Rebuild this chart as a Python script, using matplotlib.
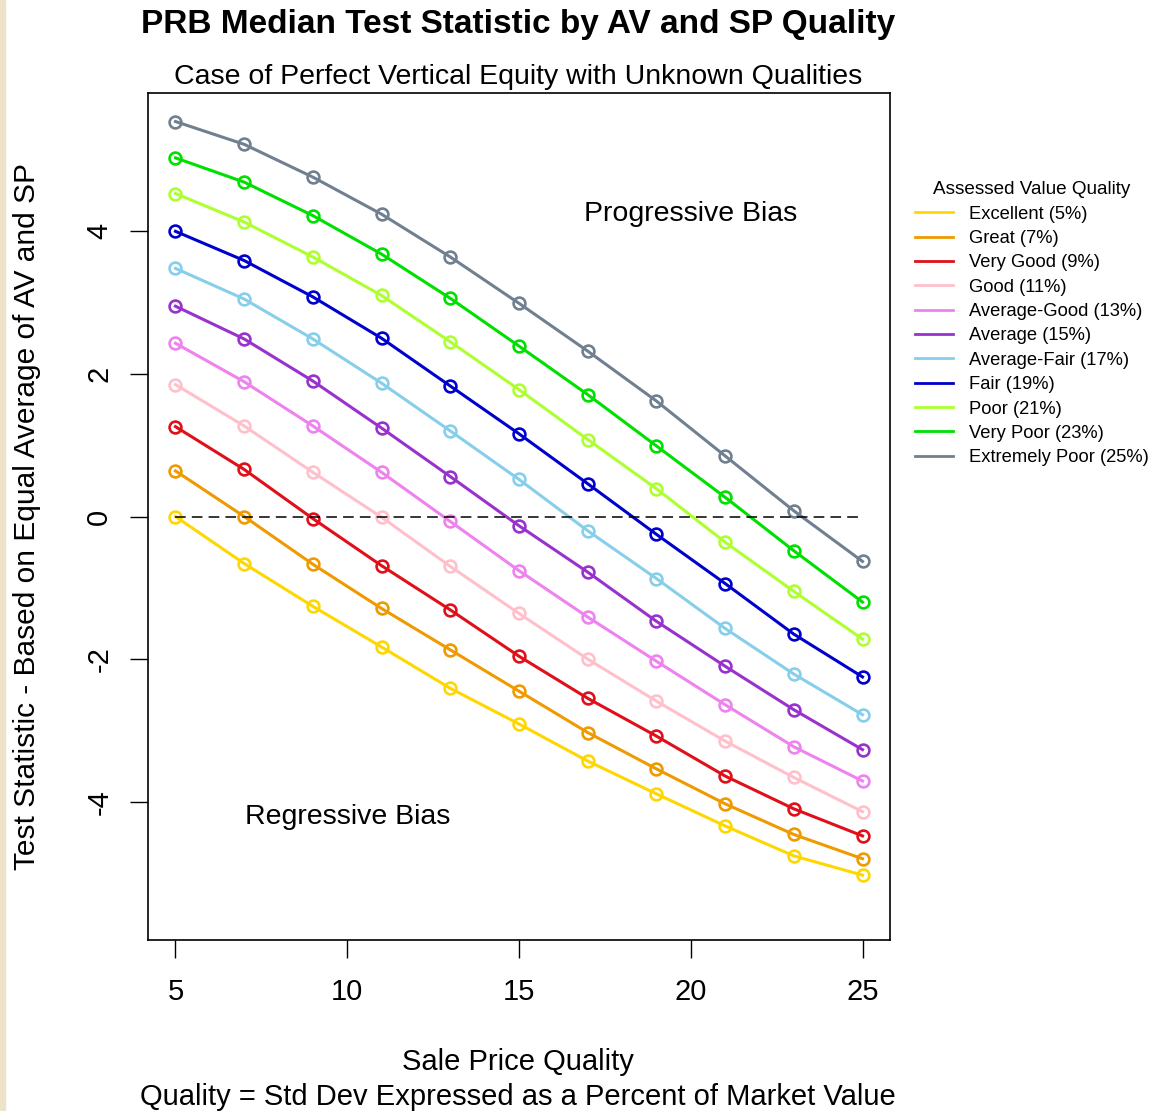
import numpy as np
import matplotlib.pyplot as plt
from matplotlib.patches import Rectangle

plt.rcParams['font.family'] = ['Liberation Sans', 'DejaVu Sans']
plt.rcParams['axes.unicode_minus'] = False

sp_quality = [5, 7, 9, 11, 13, 15, 17, 19, 21, 23, 25]

labels = ['Excellent (5%)', 'Great (7%)', 'Very Good (9%)', 'Good (11%)',
          'Average-Good (13%)', 'Average (15%)', 'Average-Fair (17%)',
          'Fair (19%)', 'Poor (21%)', 'Very Poor (23%)', 'Extremely Poor (25%)']
colors = ['#FFD700', '#EE9A00', '#E0101A', '#FFC0CB', '#EE82EE', '#9932CC',
          '#87CEEB', '#0000CD', '#ADFF2F', '#00E000', '#708090']

excellent = [0.0, -0.66, -1.26, -1.83, -2.41, -2.91, -3.43, -3.89, -4.34, -4.76, -5.03]
great = [0.64, 0.0, -0.67, -1.29, -1.87, -2.45, -3.03, -3.54, -4.03, -4.46, -4.80]
very_good = [1.26, 0.66, -0.03, -0.69, -1.31, -1.96, -2.55, -3.08, -3.64, -4.10, -4.48]
good = [1.85, 1.27, 0.62, -0.01, -0.70, -1.36, -2.00, -2.59, -3.15, -3.66, -4.14]
avg_good = [2.43, 1.89, 1.27, 0.62, -0.07, -0.76, -1.41, -2.03, -2.64, -3.23, -3.71]
average = [2.95, 2.49, 1.90, 1.24, 0.56, -0.13, -0.78, -1.47, -2.10, -2.71, -3.27]
avg_fair = [3.48, 3.05, 2.49, 1.87, 1.20, 0.52, -0.20, -0.87, -1.57, -2.21, -2.78]
fair = [4.00, 3.59, 3.08, 2.50, 1.83, 1.16, 0.46, -0.25, -0.94, -1.65, -2.25]
poor = [4.53, 4.13, 3.64, 3.10, 2.45, 1.78, 1.08, 0.39, -0.36, -1.05, -1.72]
very_poor = [5.03, 4.69, 4.22, 3.68, 3.06, 2.39, 1.71, 0.99, 0.27, -0.48, -1.20]
extremely_poor = [5.54, 5.22, 4.76, 4.24, 3.64, 2.99, 2.32, 1.62, 0.85, 0.08, -0.63]

series = [excellent, great, very_good, good, avg_good, average,
          avg_fair, fair, poor, very_poor, extremely_poor]

fig = plt.figure(figsize=(11.55, 11.11), dpi=100)
fig.patches.append(Rectangle((0, 0), 5 / 1155, 1, transform=fig.transFigure,
                             color='#EDE3C8', zorder=0))
ax = fig.add_axes([148 / 1155, 1 - 940 / 1111, 742 / 1155, 847 / 1111])

for vals, col, lab in zip(series, colors, labels):
    ax.plot(sp_quality, vals, color=col, lw=2.2, marker='o', ms=8.5,
            mfc='none', mec=col, mew=1.9, label=lab)

ax.plot([5, 25], [0, 0], color='black', lw=1.1, ls=(0, (7, 4)))

ax.text(20, 4.24, 'Progressive Bias', fontsize=20.5, ha='center', va='center')
ax.text(10, -4.21, 'Regressive Bias', fontsize=20.5, ha='center', va='center')

ax.set_xlim(4.2, 25.8)
ax.set_ylim(-5.94, 5.94)
ax.set_xticks([5, 10, 15, 20, 25])
ax.set_yticks([-4, -2, 0, 2, 4])
ax.tick_params(axis='both', length=13, width=1, labelsize=21, pad=14)
ax.tick_params(axis='y', pad=12)
for t in ax.get_yticklabels():
    t.set_rotation(90)
    t.set_va('center')
for s in ax.spines.values():
    s.set_linewidth(1.2)

fig.text(518 / 1155, 1 - 25 / 1111, 'PRB Median Test Statistic by AV and SP Quality',
         fontsize=24, fontweight='bold', ha='center', va='center')
fig.text(518 / 1155, 1 - 77 / 1111, 'Case of Perfect Vertical Equity with Unknown Qualities',
         fontsize=20.5, ha='center', va='center')
fig.text(518 / 1155, 1 - 1062 / 1111, 'Sale Price Quality', fontsize=21,
         ha='center', va='center')
fig.text(518 / 1155, 1 - 1097 / 1111, 'Quality = Std Dev Expressed as a Percent of Market Value',
         fontsize=21, ha='center', va='center')
fig.text(27 / 1155, 1 - 517 / 1111, 'Test Statistic - Based on Equal Average of AV and SP',
         fontsize=21.5, rotation=90, ha='center', va='center')

leg = fig.legend(handles=ax.get_lines()[:11], loc='upper left',
                 bbox_to_anchor=(898 / 1155, 1 - 165 / 1111), frameon=False,
                 title='Assessed Value Quality', fontsize=13.2, title_fontsize=13.6,
                 handlelength=2.1, handletextpad=0.85, labelspacing=0.4)
for h in leg.legend_handles:
    h.set_marker('')
    h.set_linewidth(2.0)

fig.savefig('out.png', dpi=100)
